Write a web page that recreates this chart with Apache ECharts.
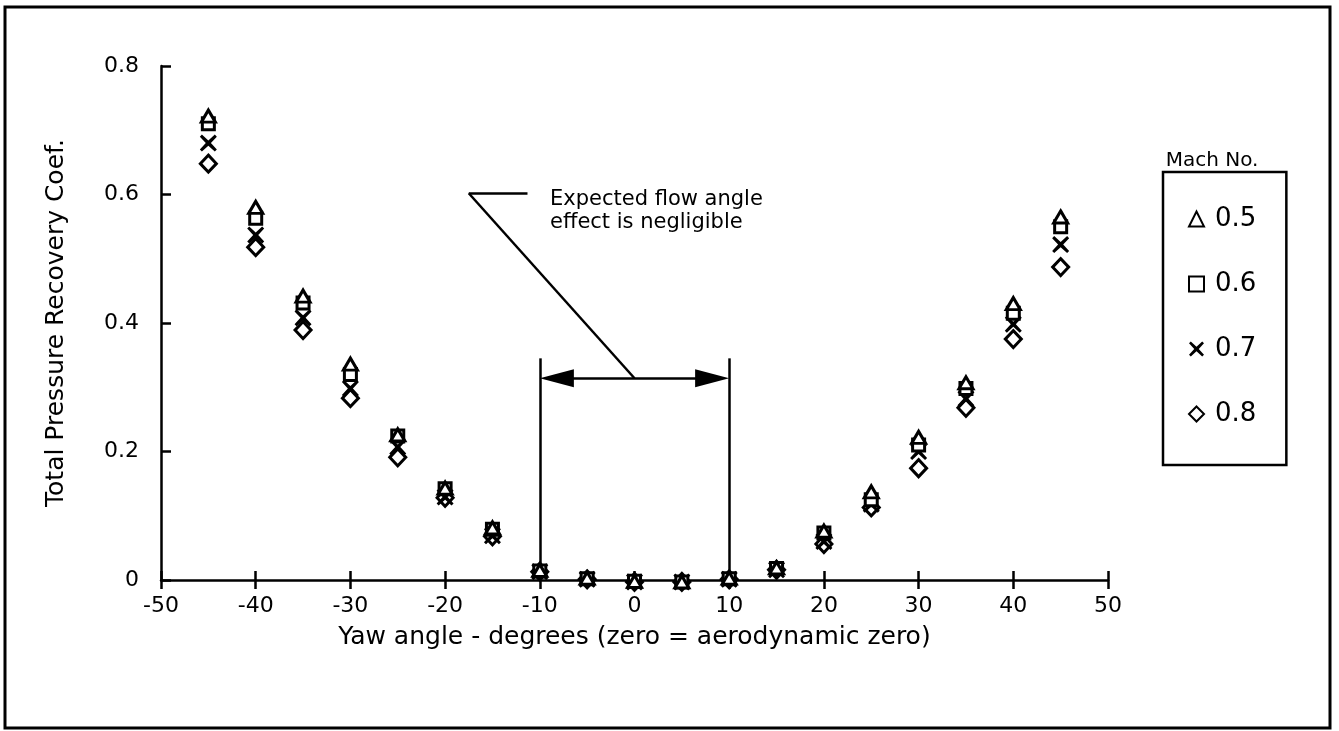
<!DOCTYPE html>
<html>
<head>
<meta charset="utf-8">
<script src="https://cdn.jsdelivr.net/npm/echarts@6/dist/echarts.min.js"></script>
<style>
html,body{margin:0;padding:0;background:#fff;}
#chart{width:1339px;height:731px;}
</style>
</head>
<body>
<div id="chart"></div>
<script>
// Yaw angle categories (degrees)
const yaw = [-45,-40,-35,-30,-25,-20,-15,-10,-5,0,5,10,15,20,25,30,35,40,45];
// Total pressure recovery coefficient per Mach number
const mach05 = [0.722,0.580,0.442,0.336,0.226,0.143,0.081,0.015,0.003,-0.002,-0.003,0.003,0.019,0.076,0.137,0.222,0.307,0.430,0.565];
const mach06 = [0.710,0.563,0.431,0.320,0.224,0.142,0.079,0.014,0.002,-0.002,-0.003,0.002,0.018,0.073,0.125,0.210,0.298,0.415,0.550];
const mach07 = [0.680,0.537,0.408,0.298,0.207,0.129,0.069,0.013,0.001,-0.003,-0.003,0.001,0.016,0.060,0.118,0.200,0.282,0.398,0.522];
const mach08 = [0.648,0.518,0.389,0.283,0.191,0.128,0.068,0.013,0.001,-0.003,-0.003,0.001,0.016,0.056,0.113,0.174,0.268,0.375,0.487];
const seriesNames = ['0.5','0.6','0.7','0.8'];
const xTicks = {min:-50, max:50, interval:10};
const yTicks = {min:0, max:0.8, interval:0.2};

const FONT = 'DejaVu Sans';
const pair = (ys) => yaw.map((x,i)=>[x, ys[i]]);
const xPath = 'path://M1.2,0 L5,3.5 L8.8,0 L10,1.2 L6.5,5 L10,8.8 L8.8,10 L5,6.5 L1.2,10 L0,8.8 L3.5,5 L0,1.2 Z';
const hollow = {color:'#fff', borderColor:'#000', borderWidth:3, opacity:1};

const chart = echarts.init(document.getElementById('chart'), null, {renderer:'canvas'});
const lineStyle = {color:'#000', width:2.5, type:'solid', opacity:1};
const gridBox = {left:161, right:231, top:66, bottom:151, containLabel:false};
const option = {
  animation:false,
  backgroundColor:'#fff',
  grid:[Object.assign({}, gridBox), Object.assign({}, gridBox)],
  xAxis:[{
    gridIndex:0,
    type:'value', min:xTicks.min, max:xTicks.max, interval:xTicks.interval, position:'bottom',
    name:'Yaw angle - degrees (zero = aerodynamic zero)',
    nameLocation:'middle', nameGap:45,
    nameTextStyle:{fontFamily:FONT, fontSize:25, color:'#000'},
    axisLine:{show:true, onZero:false, lineStyle:{color:'#000', width:2.5}},
    axisTick:{show:true, inside:false, length:9, lineStyle:{color:'#000', width:2.5}},
    axisLabel:{fontFamily:FONT, fontSize:22, color:'#000', margin:15},
    splitLine:{show:false}
  },{
    gridIndex:1,
    type:'value', min:xTicks.min, max:xTicks.max, interval:xTicks.interval, position:'bottom',
    axisLine:{show:false, onZero:false},
    axisTick:{show:true, inside:true, length:9, lineStyle:{color:'#000', width:2.5}},
    axisLabel:{show:false}, splitLine:{show:false}
  }],
  yAxis:[{
    gridIndex:0,
    type:'value', min:yTicks.min, max:yTicks.max, interval:yTicks.interval,
    name:'Total Pressure Recovery Coef.',
    nameLocation:'middle', nameGap:92,
    nameTextStyle:{fontFamily:FONT, fontSize:25, color:'#000'},
    axisLine:{show:true, onZero:false, lineStyle:{color:'#000', width:2.5}},
    axisTick:{show:true, inside:true, length:10, lineStyle:{color:'#000', width:2.5}},
    axisLabel:{fontFamily:FONT, fontSize:22, color:'#000', margin:22},
    splitLine:{show:false}
  },{
    gridIndex:1,
    type:'value', min:yTicks.min, max:yTicks.max, interval:yTicks.interval,
    axisLine:{show:false}, axisTick:{show:false}, axisLabel:{show:false}, splitLine:{show:false}
  }],
  legend:{
    orient:'vertical', left:1163, top:172,
    data:seriesNames,
    padding:[34,30,38,25], itemGap:39, itemWidth:15, itemHeight:15,
    borderColor:'#000', borderWidth:2.5,
    textStyle:{fontFamily:FONT, fontSize:26, color:'#000', padding:[0,0,0,6]}
  },
  graphic:[
    {type:'rect', shape:{x:5, y:7, width:1325, height:721}, style:{fill:'none', stroke:'#000', lineWidth:3}, silent:true},
    {type:'text', x:1212, y:161, style:{text:'Mach No.', fontFamily:FONT, fontSize:20, fill:'#000', align:'center', verticalAlign:'middle'}},
    {type:'text', x:550, y:200, style:{text:'Expected flow angle', fontFamily:FONT, fontSize:21, fill:'#000', verticalAlign:'middle'}},
    {type:'text', x:550, y:223, style:{text:'effect is negligible', fontFamily:FONT, fontSize:21, fill:'#000', verticalAlign:'middle'}}
  ],
  series:[
    {name:'0.5', type:'scatter', data:pair(mach05), symbol:'triangle', symbolSize:[14,12], itemStyle:hollow, clip:false, z:5,
      markLine:{silent:true, symbol:'none', label:{show:false}, lineStyle:lineStyle, animation:false,
        data:[
          [{coord:[-10,0]},{coord:[-10,0.345]}],
          [{coord:[10,0]},{coord:[10,0.345]}],
          [{coord:[0,0.314]},{coord:[-17.5,0.602]}],
          [{coord:[-17.5,0.602]},{coord:[-11.3,0.602]}],
          [{coord:[-8.2,0.314], symbol:'triangle', symbolSize:[18,34]},{coord:[8.2,0.314], symbol:'triangle', symbolSize:[18,34]}]
        ]}},
    {name:'0.6', type:'scatter', data:pair(mach06), symbol:'rect', symbolSize:12, itemStyle:hollow, clip:false, z:4},
    {name:'0.7', type:'scatter', data:pair(mach07), symbol:xPath, symbolSize:17, itemStyle:{color:'#000', opacity:1}, clip:false, z:3},
    {name:'0.8', type:'scatter', data:pair(mach08), symbol:'diamond', symbolSize:[16,17], itemStyle:hollow, clip:false, z:2}
  ]
};
chart.setOption(option);
</script>
</body>
</html>
